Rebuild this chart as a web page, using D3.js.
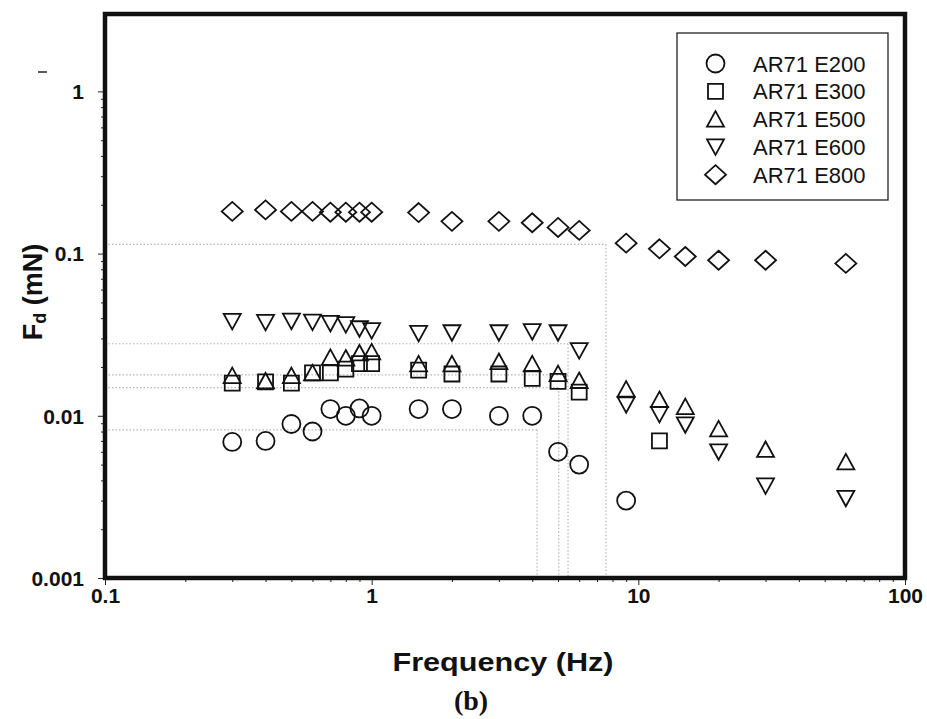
<!DOCTYPE html>
<html>
<head>
<meta charset="utf-8">
<script src="https://cdn.jsdelivr.net/npm/d3@7"></script>
<style>
  body { margin: 0; background: #fff; }
  svg { display: block; font-family: "Liberation Sans", Arial, sans-serif; }
</style>
</head>
<body>
<div id="chart"></div>
<script>
// frequencies (Hz) shared by all series, null = no measurement
var freqs = [0.3, 0.4, 0.5, 0.6, 0.7, 0.8, 0.9, 1, 1.5, 2, 3, 4, 5, 6, 9, 12, 15, 20, 30, 60];

var fdE200 = [0.0069, 0.0070, 0.0089, 0.0080, 0.0110, 0.0100, 0.0111, 0.0100, 0.0110, 0.0110,
              0.0100, 0.0100, 0.0060, 0.0050, 0.0030, null, null, null, null, null];
var fdE300 = [0.0159, 0.0162, 0.0159, 0.0184, 0.0184, 0.0194, 0.0210, 0.0210, 0.0191, 0.0181,
              0.0181, 0.0170, 0.0163, 0.0140, null, 0.0070, null, null, null, null];
var fdE500 = [0.0177, 0.0164, 0.0177, 0.0184, 0.0229, 0.0227, 0.0244, 0.0248, 0.0209, 0.0209,
              0.0216, 0.0209, 0.0182, 0.0165, 0.0146, 0.0126, 0.0114, 0.0083, 0.0062, 0.0052];
var fdE600 = [0.0382, 0.0377, 0.0383, 0.0378, 0.0371, 0.0365, 0.0344, 0.0335, 0.0322, 0.0325,
              0.0325, 0.0330, 0.0325, 0.0252, 0.0117, 0.0102, 0.0088, 0.0060, 0.0037, 0.0031];
var fdE800 = [0.182, 0.186, 0.182, 0.182, 0.180, 0.180, 0.180, 0.180, 0.179, 0.158,
              0.158, 0.155, 0.145, 0.139, 0.116, 0.107, 0.096, 0.091, 0.091, 0.087];

var seriesNames = ["AR71 E200", "AR71 E300", "AR71 E500", "AR71 E600", "AR71 E800"];
var seriesValues = [fdE200, fdE300, fdE500, fdE600, fdE800];
var seriesShapes = ["circle", "square", "up", "down", "diamond"];

var xTicks = [0.1, 1, 10, 100];
var xTickLabels = ["0.1", "1", "10", "100"];
var yTicks = [0.001, 0.01, 0.1, 1];
var yTickLabels = ["0.001", "0.01", "0.1", "1"];

// dotted guide lines: level of Fd and frequency where it reaches the corner
var guideFd = [0.114, 0.0278, 0.0179, 0.0149, 0.0082];
var guideFreq = [7.56, 5.45, 5.45, 5.03, 4.17];
var guideVertical = [true, true, false, true, true];

var w = 927, h = 719;
var svg = d3.select("#chart").append("svg")
    .attr("width", w)
    .attr("height", h);

var xScale = d3.scaleLog().domain([0.1, 100]).range([105, 905]);
var yScale = d3.scaleLog().domain([0.001, 3]).range([578, 14]);

// marker shapes centred on their bounding box
var shapes = {
    circle: { draw: function(c) { c.moveTo(9, 0); c.arc(0, 0, 9, 0, 2 * Math.PI); } },
    square: { draw: function(c) { c.rect(-7.5, -7.5, 15, 15); } },
    up: { draw: function(c) { c.moveTo(0, -8); c.lineTo(8.5, 7.5); c.lineTo(-8.5, 7.5); c.closePath(); } },
    down: { draw: function(c) { c.moveTo(0, 8); c.lineTo(8.5, -7.5); c.lineTo(-8.5, -7.5); c.closePath(); } },
    diamond: { draw: function(c) { c.moveTo(0, -9.5); c.lineTo(10.5, 0); c.lineTo(0, 9.5); c.lineTo(-10.5, 0); c.closePath(); } }
};
function symbolPath(name) {
    return d3.symbol().type(shapes[name])();
}

// guide lines
var guides = svg.append("g").attr("class", "guides");
guideFd.forEach(function(v, i) {
    guides.append("line")
        .attr("x1", xScale(0.1)).attr("x2", xScale(guideFreq[i]))
        .attr("y1", yScale(v)).attr("y2", yScale(v))
        .attr("stroke", "#b5b5b5").attr("stroke-width", 1.2)
        .attr("stroke-dasharray", "1.5,2");
    if (guideVertical[i]) {
        guides.append("line")
            .attr("x1", xScale(guideFreq[i])).attr("x2", xScale(guideFreq[i]))
            .attr("y1", yScale(v)).attr("y2", yScale(0.001))
            .attr("stroke", "#b5b5b5").attr("stroke-width", 1.2)
            .attr("stroke-dasharray", "1.5,2");
    }
});

// axes
function minorTicks(lo, hi) {
    var out = [];
    for (var p = lo; p < hi; p++) {
        for (var k = 2; k <= 9; k++) out.push(k * Math.pow(10, p));
    }
    return out;
}

var xAxis = d3.axisBottom(xScale).tickValues(xTicks).tickSize(7)
    .tickFormat(function(d, i) { return xTickLabels[i]; });
var xMinor = d3.axisBottom(xScale).tickValues(minorTicks(-1, 2)).tickSize(4).tickFormat("");
var yAxis = d3.axisLeft(yScale).tickValues(yTicks).tickSize(7)
    .tickFormat(function(d, i) { return yTickLabels[i]; });
var yMinor = d3.axisLeft(yScale).tickValues(minorTicks(-3, 0)).tickSize(4).tickFormat("");

var gx = svg.append("g").attr("transform", "translate(0,578)").call(xAxis);
svg.append("g").attr("transform", "translate(0,578)").call(xMinor).select(".domain").remove();
var gy = svg.append("g").attr("transform", "translate(105,0)").call(yAxis);
svg.append("g").attr("transform", "translate(105,0)").call(yMinor).select(".domain").remove();
gx.select(".domain").remove();
gy.select(".domain").remove();

gx.selectAll("text")
    .attr("y", 25)
    .attr("dy", 0)
    .style("font-size", "21px")
    .style("font-weight", "bold")
    .style("font-family", "'Liberation Sans', Arial, sans-serif")
    .attr("fill", "#111");
gy.selectAll("text")
    .attr("x", -21)
    .attr("dy", "0.35em")
    .style("font-size", "21px")
    .style("font-weight", "bold")
    .style("font-family", "'Liberation Sans', Arial, sans-serif")
    .attr("fill", "#111");
svg.selectAll(".tick line").attr("stroke", "#222");

// plot frame
svg.append("rect")
    .attr("x", 105).attr("y", 14)
    .attr("width", 800).attr("height", 564)
    .attr("fill", "none")
    .attr("stroke", "#111")
    .attr("stroke-width", 4.5);

// markers
seriesValues.forEach(function(vals, s) {
    var pts = [];
    vals.forEach(function(v, i) { if (v !== null) pts.push({ f: freqs[i], v: v }); });
    svg.append("g").attr("class", "series")
        .selectAll("path")
        .data(pts)
        .enter()
        .append("path")
        .attr("d", symbolPath(seriesShapes[s]))
        .attr("transform", function(d) {
            return "translate(" + xScale(d.f) + "," + yScale(d.v) + ")";
        })
        .attr("fill", "none")
        .attr("stroke", "#111")
        .attr("stroke-width", 1.8);
});

// legend
var legend = svg.append("g");
legend.append("rect")
    .attr("x", 677).attr("y", 33)
    .attr("width", 211).attr("height", 167)
    .attr("fill", "#fff")
    .attr("stroke", "#222")
    .attr("stroke-width", 1.3);
seriesNames.forEach(function(name, i) {
    var ry = 63.5 + i * 27.8;
    legend.append("path")
        .attr("d", symbolPath(seriesShapes[i]))
        .attr("transform", "translate(715.5," + ry + ")")
        .attr("fill", "none")
        .attr("stroke", "#111")
        .attr("stroke-width", 1.8);
    legend.append("text")
        .attr("x", 753)
        .attr("y", ry + 8)
        .style("font-size", "22px")
        .attr("fill", "#111")
        .text(name);
});

// axis titles
svg.append("text")
    .attr("x", 503)
    .attr("y", 671)
    .attr("text-anchor", "middle")
    .attr("textLength", 221)
    .attr("lengthAdjust", "spacingAndGlyphs")
    .style("font-size", "25px")
    .style("font-weight", "bold")
    .attr("fill", "#111")
    .text("Frequency (Hz)");

var yTitle = svg.append("text")
    .attr("transform", "translate(42,292) rotate(-90)")
    .attr("text-anchor", "middle")
    .style("font-size", "27px")
    .style("font-weight", "bold")
    .attr("fill", "#111");
yTitle.append("tspan").text("F");
yTitle.append("tspan").attr("dy", 4).style("font-size", "18px").text("d");
yTitle.append("tspan").attr("dy", -4).text(" (mN)");

svg.append("text")
    .attr("x", 471)
    .attr("y", 710)
    .attr("text-anchor", "middle")
    .style("font-family", "'Liberation Serif', 'Times New Roman', serif")
    .style("font-size", "28px")
    .style("font-weight", "bold")
    .attr("fill", "#111")
    .text("(b)");

// small stray mark left of the "1" label
svg.append("line")
    .attr("x1", 38).attr("x2", 47)
    .attr("y1", 72).attr("y2", 72)
    .attr("stroke", "#222").attr("stroke-width", 1.5);
</script>
</body>
</html>
